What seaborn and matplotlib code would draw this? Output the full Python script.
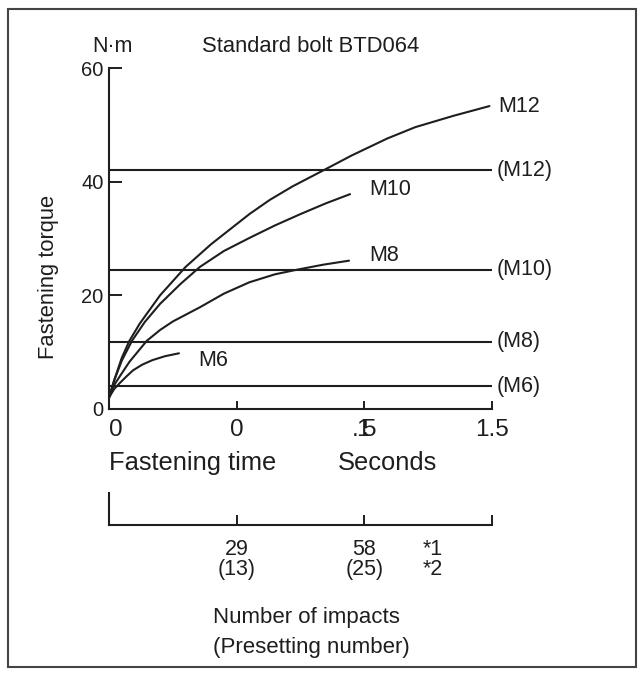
import numpy as np
import pandas as pd
import matplotlib
matplotlib.use('Agg')
import matplotlib.pyplot as plt
from matplotlib.patches import Rectangle
import seaborn as sns

# Torque curves (time in s, torque in N·m)
m12_t = [0, 0.02, 0.05, 0.08, 0.12, 0.2, 0.3, 0.4, 0.55, 0.63, 0.72, 0.84, 0.95, 1.09, 1.2, 1.35, 1.49]
m12_y = [2, 5, 9, 12, 15, 20, 25, 29, 34.3, 36.8, 39.2, 42, 44.6, 47.6, 49.6, 51.6, 53.3]
m10_t = [0, 0.02, 0.05, 0.09, 0.14, 0.2, 0.28, 0.356, 0.45, 0.55, 0.65, 0.75, 0.85, 0.944]
m10_y = [2, 5, 8.5, 12, 15.3, 18.5, 22, 25, 27.8, 30.1, 32.3, 34.3, 36.2, 37.8]
m8_t = [0, 0.02, 0.043, 0.08, 0.148, 0.2, 0.25, 0.356, 0.45, 0.55, 0.65, 0.735, 0.84, 0.94]
m8_y = [2, 4.2, 5.8, 8.3, 12, 13.9, 15.4, 17.9, 20.3, 22.3, 23.7, 24.5, 25.4, 26.1]
m6_t = [0, 0.02, 0.043, 0.07, 0.094, 0.13, 0.17, 0.22, 0.274]
m6_y = [2, 3.5, 4.6, 5.8, 6.8, 7.8, 8.6, 9.3, 9.8]

curve_names = ['M12', 'M10', 'M8', 'M6']
# label offsets from the curve end, in pixels
curve_offsets = [(9, 0), (19, 5), (20, 5), (19, -7)]

# Presetting torque levels
ref_names = ['(M12)', '(M10)', '(M8)', '(M6)']
ref_vals = [42, 24.5, 11.8, 4]

# Axis ticks (the 1.0 label is printed as ".5" with a "1" over it)
time_ticks = [0, 0.5, 1.0, 1.5]
time_labels = ['0', '0', r'$\mathregular{.5\!\!\!\!\!1}$', '1.5']
impact_ticks = [0.5, 1.0, 1.5]
impact_labels = ['29\n(13)', '58\n(25)', '']

sns.set_style('white')
plt.rcParams['font.family'] = ['Liberation Sans', 'DejaVu Sans']
plt.rcParams['mathtext.fontset'] = 'custom'
plt.rcParams['mathtext.rm'] = 'Liberation Sans'

W, H = 642, 673
ink = '#1e1e1e'
fig = plt.figure(figsize=(W / 100, H / 100), dpi=100)


def fx(px):
    return px / W


def fy(py):
    return 1 - py / H


ax = fig.add_axes([fx(109), fy(409), (492 - 109) / W, (409 - 68) / H])

df = pd.concat([
    pd.DataFrame({'t': t, 'torque': y, 'bolt': n})
    for t, y, n in zip([m12_t, m10_t, m8_t, m6_t], [m12_y, m10_y, m8_y, m6_y], curve_names)
])
for name, off in zip(curve_names, curve_offsets):
    sub = df[df['bolt'] == name]
    sns.lineplot(data=sub, x='t', y='torque', ax=ax, color=ink, lw=1.5,
                 sort=False, estimator=None)
    ax.annotate(name, (sub['t'].iloc[-1], sub['torque'].iloc[-1]),
                xytext=off, textcoords='offset pixels', ha='left', va='center',
                fontsize=15.5, color=ink)

ax.hlines(ref_vals, 0, 1.5, color=ink, lw=1.5)
for name, v in zip(ref_names, ref_vals):
    ax.annotate(name, (1.5, v), xytext=(5, 0), textcoords='offset pixels',
                ha='left', va='center', fontsize=15.5, color=ink)

ax.set_xlim(0, 1.5)
ax.set_ylim(0, 60)
ax.set_xlabel('')
ax.set_ylabel('')
ax.set_yticks([0, 20, 40, 60])
ax.set_xticks(time_ticks, time_labels)
ax.xaxis.get_majorticklabels()[0].set_ha('left')
ax.tick_params(axis='y', left=True, direction='in', length=9.5, width=1.4,
               color=ink, labelsize=14.5, pad=4, labelcolor=ink)
ax.tick_params(axis='x', bottom=True, direction='in', length=6, width=1.4,
               color=ink, labelsize=17.5, pad=7, labelcolor=ink)
for s in ['top', 'right']:
    ax.spines[s].set_visible(False)
for s in ['left', 'bottom']:
    ax.spines[s].set_color(ink)
    ax.spines[s].set_linewidth(1.5)

# Impacts scale
ax2 = fig.add_axes([fx(109), fy(525), (492 - 109) / W, 32 / H])
ax2.set_xlim(0, 1.5)
ax2.set_ylim(0, 1)
ax2.set_yticks([])
ax2.set_xticks(impact_ticks, impact_labels)
ax2.set_xticks([1.27], ['*1\n*2'], minor=True)
ax2.tick_params(axis='x', which='major', bottom=True, direction='in', length=7,
                width=1.4, color=ink, labelsize=15.5, pad=10, labelcolor=ink)
ax2.tick_params(axis='x', which='minor', bottom=True, length=0, labelsize=15.5,
                pad=10, labelcolor=ink)
for lab in ax2.get_xticklabels(which='both'):
    lab.set_linespacing(0.95)
for s in ['top', 'right']:
    ax2.spines[s].set_visible(False)
for s in ['left', 'bottom']:
    ax2.spines[s].set_color(ink)
    ax2.spines[s].set_linewidth(1.5)
ax2.patch.set_alpha(0)

# Texts
fig.text(fx(92), fy(46), 'N·m', fontsize=15.5, va='center', ha='left', color=ink)
fig.text(fx(202), fy(46), 'Standard bolt BTD064', fontsize=15.8, va='center',
         ha='left', color=ink)
fig.text(fx(49), fy(277), 'Fastening torque', fontsize=15.8, rotation=90,
         va='center', ha='center', color=ink)
fig.text(fx(109), fy(463), 'Fastening time', fontsize=18.4, va='center',
         ha='left', color=ink)
fig.text(fx(338), fy(463), 'Seconds', fontsize=18.4, va='center', ha='left',
         color=ink)
fig.text(fx(213), fy(618), 'Number of impacts', fontsize=16, va='center',
         ha='left', color=ink)
fig.text(fx(213), fy(648), '(Presetting number)', fontsize=16, va='center',
         ha='left', color=ink)

# Frame around the whole figure
fig.patches.append(Rectangle((fx(8), fy(667)), (636 - 8) / W, (667 - 9) / H,
                             transform=fig.transFigure, fill=False,
                             edgecolor='#444444', lw=1.5))

fig.savefig('out.png', dpi=100)
